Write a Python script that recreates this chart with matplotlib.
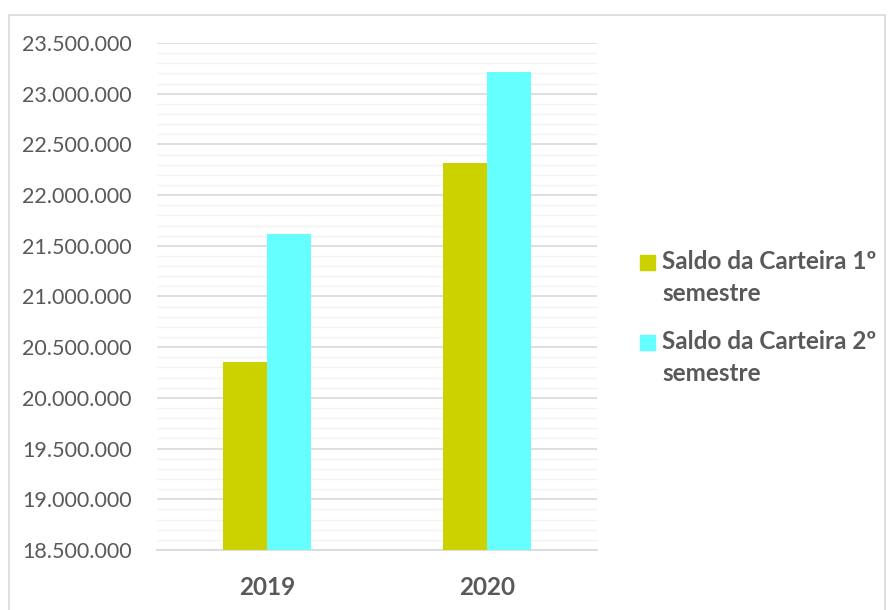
import matplotlib
matplotlib.use("Agg")
import matplotlib.pyplot as plt
from matplotlib.ticker import MultipleLocator, FuncFormatter
from matplotlib.patches import Rectangle
import numpy as np

categories = ["2019", "2020"]
sem1 = [20350000, 22320000]
sem2 = [21620000, 23210000]
series_labels = ["Saldo da Carteira 1º\nsemestre", "Saldo da Carteira 2º\nsemestre"]
colors = ["#CCD100", "#66FFFF"]

plt.rcParams['font.family'] = ['Lato', 'DejaVu Sans']
txt = "#595959"

fig = plt.figure(figsize=(8.93, 6.10), dpi=100)
fig.patches.append(Rectangle((9/893, -0.01), 876/893, 1.01 - 15/610, transform=fig.transFigure,
                             fill=False, edgecolor="#D9D9D9", linewidth=1.2))
ax = fig.add_axes([157/893, 1-550/610, 440/893, 507/610])

x = np.arange(len(categories))
w = 0.2
ax.bar(x - w/2, sem1, width=w, color=colors[0], zorder=3)
ax.bar(x + w/2, sem2, width=w, color=colors[1], zorder=3)

ax.set_xlim(-0.5, 1.5)
ax.set_ylim(18500000, 23500000)
ax.yaxis.set_major_locator(MultipleLocator(500000))
ax.yaxis.set_minor_locator(MultipleLocator(100000))
ax.yaxis.set_major_formatter(FuncFormatter(lambda v, p: f"{int(round(v)):,}".replace(",", ".")))
ax.grid(axis='y', which='major', color="#D9D9D9", linewidth=1.2, zorder=0)
ax.grid(axis='y', which='minor', color="#F2F2F2", linewidth=1.0, zorder=0)
ax.tick_params(axis='y', which='both', length=0, labelsize=15.5, labelcolor=txt)
ax.tick_params(axis='x', length=0, labelsize=17.5, labelcolor=txt, pad=19)
ax.set_xticks(x)
ax.set_xticklabels(categories, fontweight='bold')
for s in ["top", "right", "left"]:
    ax.spines[s].set_visible(False)
ax.spines["bottom"].set_color("#D9D9D9")
ax.spines["bottom"].set_linewidth(1.2)
for lbl in ax.get_yticklabels():
    lbl.set_horizontalalignment('left')
ax.tick_params(axis='y', pad=(157 - 22) * 72 / 100)

# legend drawn manually (wrapped labels, marker aligned with first line)
leg_x = 640 / 893
leg_y = [262, 342]
for lab, col, yy in zip(series_labels, colors, leg_y):
    fig.patches.append(Rectangle((leg_x, 1 - (yy + 8) / 610), 15 / 893, 15 / 610,
                                 transform=fig.transFigure, color=col))
    fig.text(662 / 893, 1 - (yy - 12) / 610, lab, fontsize=17.5, fontweight='bold',
             color=txt, va='top', ha='left', linespacing=1.45)

fig.savefig("out.png", dpi=100, facecolor="white")
